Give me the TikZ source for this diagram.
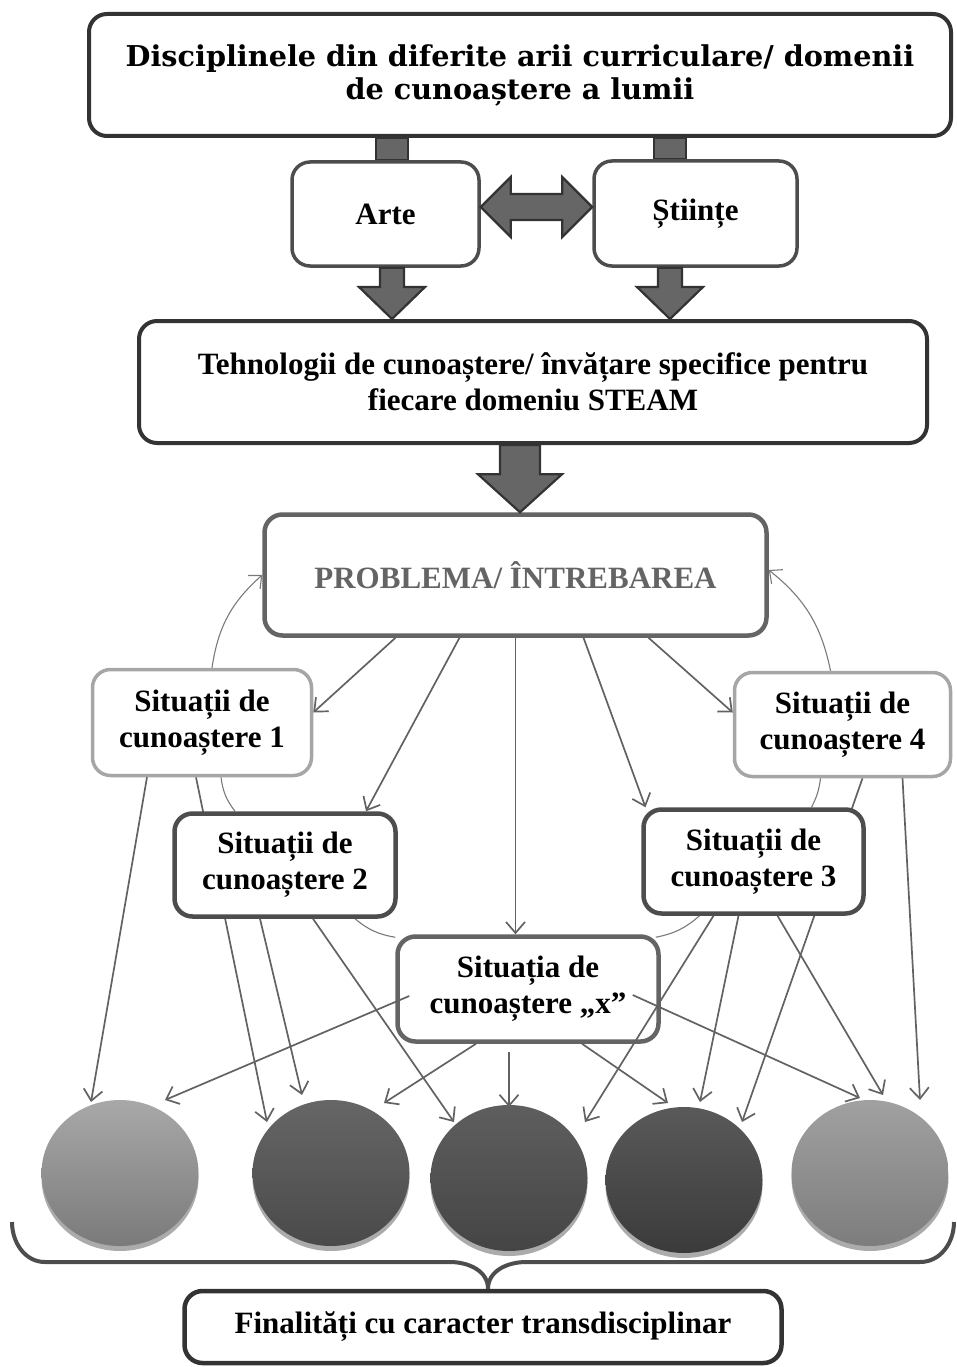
\documentclass[tikz,border=0pt]{standalone}
\usepackage{fontspec}
\setmainfont{Liberation Serif}
\newfontfamily\topfont{DejaVu Serif}
\usetikzlibrary{arrows.meta,calc,shapes.geometric,shadows,backgrounds}

\definecolor{fatgray}{HTML}{666666}
\definecolor{fatline}{HTML}{333333}
\definecolor{darkline}{HTML}{333333}
\definecolor{midline}{HTML}{4D4D4D}
\definecolor{softline}{HTML}{A6A6A6}
\definecolor{probline}{HTML}{646464}
\definecolor{linegray}{HTML}{626262}
\definecolor{arcgray}{HTML}{7A7A7A}

\tikzset{
  box/.style={draw, fill=white, rounded corners=18pt, align=center, inner sep=0pt,
    font=\bfseries\fontsize{31}{36}\selectfont},
  fat/.style={fill=fatgray, draw=fatline, line width=2.2pt, line join=miter},
  arr/.style={draw=linegray, line width=1.7pt, -{Straight Barb[length=11pt,width=19pt]}},
  arcline/.style={draw=arcgray, line width=1.1pt},
  circ/.style={ellipse, inner sep=0pt, minimum width=157pt, minimum height=146pt,
    drop shadow={shadow xshift=0pt, shadow yshift=-5pt, fill=black!33, opacity=1}},
}

% fat arrow pointing down: from, to, half shaft, half head, head length
\newcommand{\fatdown}[5]{%
  \draw[fat] let \p1=(#1), \p2=(#2) in
    (\x1-#3,\y1) -- (\x1+#3,\y1) -- (\x1+#3,\y2+#5) -- (\x1+#4,\y2+#5)
    -- (\x1,\y2) -- (\x1-#4,\y2+#5) -- (\x1-#3,\y2+#5) -- cycle;}
% fat arrow with two heads, left to right
\newcommand{\fatboth}[2]{%
  \draw[fat] let \p1=(#1), \p2=(#2) in
    (\x1,\y1) -- (\x1+30pt,\y1+30pt) -- (\x1+30pt,\y1+13pt) -- (\x2-30pt,\y1+13pt)
    -- (\x2-30pt,\y1+30pt) -- (\x2,\y1) -- (\x2-30pt,\y1-30pt) -- (\x2-30pt,\y1-13pt)
    -- (\x1+30pt,\y1-13pt) -- (\x1+30pt,\y1-30pt) -- cycle;}
% fat bar between two boxes
\newcommand{\fatbar}[2]{%
  \draw[fat] let \p1=(#1), \p2=(#2) in (\x1-16pt,\y1) rectangle (\x1+16pt,\y2);}

\pgfdeclarelayer{background}
\pgfsetlayers{background,main}

\begin{document}
\begin{tikzpicture}[x=1pt,y=-1pt]
\useasboundingbox (0,0) rectangle (956,1367);

% boxes
\node[box, draw=darkline, line width=4pt, minimum width=862pt, minimum height=122pt,
  font=\topfont\bfseries\fontsize{28.7}{33}\selectfont] (top) at (520,75)
  {Disciplinele din diferite arii curriculare/ domenii\\de cunoaștere a lumii};
\node[box, draw=midline, line width=3.5pt, minimum width=187pt, minimum height=104pt] (arte) at (385.5,214) {Arte};
\node[box, draw=midline, line width=3.5pt, minimum width=203pt, minimum height=105pt] (stiinte) at (695.5,213.5) {Științe};
\node[box, draw=darkline, line width=4pt, minimum width=788pt, minimum height=122pt] (tehn) at (533,382)
  {Tehnologii de cunoaștere/ învățare specifice pentru\\fiecare domeniu STEAM};
\node[box, draw=probline, line width=4.5pt, minimum width=502pt, minimum height=121pt,
  text=probline] (prob) at (515.5,575) {PROBLEMA/ ÎNTREBAREA};
\node[box, draw=softline, line width=3.5pt, minimum width=219pt, minimum height=106pt] (s1) at (202,722.5)
  {Situații de\\cunoaștere 1};
\node[box, draw=softline, line width=3.5pt, minimum width=216pt, minimum height=104pt] (s4) at (842.5,724.5)
  {Situații de\\cunoaștere 4};
\node[box, draw=midline, line width=4.5pt, minimum width=221pt, minimum height=103pt] (s2) at (285,865)
  {Situații de\\cunoaștere 2};
\node[box, draw=midline, line width=4.5pt, minimum width=220pt, minimum height=104pt] (s3) at (753.5,861.5)
  {Situații de\\cunoaștere 3};
\node[box, draw=probline, line width=4.5pt, minimum width=261pt, minimum height=105pt] (sx) at (528,989)
  {Situația de\\cunoaștere „x”};

% outcomes
\node[circ, top color=black!34, bottom color=black!52] (c1) at (120,1173) {};
\node[circ, top color=black!60, bottom color=black!71] (c2) at (331,1173) {};
\node[circ, top color=black!63, bottom color=black!73] (c3) at (509,1178) {};
\node[circ, top color=black!65, bottom color=black!77] (c4) at (684,1180) {};
\node[circ, top color=black!37, bottom color=black!51] (c5) at (870,1173) {};

\node[box, draw=darkline, line width=4.5pt, minimum width=597pt, minimum height=72pt] (fin) at (483,1327)
  {Finalități cu caracter transdisciplinar};

% fat connectors
\begin{pgfonlayer}{background}
\fatbar{[xshift=-128pt]top.south}{arte.north}
\fatbar{[xshift=150pt]top.south}{stiinte.north}
\end{pgfonlayer}
\fatboth{[yshift=7pt]arte.east}{[yshift=7pt]stiinte.west}
\fatdown{[xshift=6.5pt]arte.south}{tehn.north}{12pt}{33pt}{32pt}
\fatdown{[xshift=-25.5pt]stiinte.south}{tehn.north}{12pt}{33pt}{32pt}
\fatdown{[xshift=-13pt]tehn.south}{prob.north}{20pt}{42pt}{38pt}

% cycle
\begin{pgfonlayer}{background}
\draw[arcline, -{Straight Barb[length=10pt,width=18pt]}] ([xshift=10pt]s1.north) to[bend left=20] (prob.west);
\draw[arcline, -{Straight Barb[length=10pt,width=18pt]}] ([xshift=-12pt]s4.north) to[bend right=20] ([yshift=5pt]prob.east);
\draw[arcline] ([xshift=19pt]s1.south) to[bend right=15] ([xshift=-50pt]s2.north);
\draw[arcline] ([xshift=70pt]s2.south) to[bend right=15] ([yshift=-3pt]sx.north west);
\draw[arcline] ([xshift=-5pt,yshift=-3pt]sx.north east) to[bend right=15] ([xshift=-54pt]s3.south);
\draw[arcline] ([xshift=58pt]s3.north) to[bend right=10] ([xshift=-22pt]s4.south);
\draw[arr] ([xshift=-6pt]s1.south) -- ([xshift=-64pt,yshift=51pt]c2.center);
\draw[arr] ([xshift=20pt]s4.south) -- ([xshift=58pt,yshift=58pt]c4.center);
\end{pgfonlayer}

% problem to situations
\draw[arr] ([xshift=-120pt]prob.south) -- ([yshift=10pt]s1.east);
\draw[arr] ([xshift=-56pt]prob.south) -- ([xshift=81pt]s2.north);
\draw[arr] (prob.south) -- (prob.south |- sx.north);
\draw[arr] ([xshift=68pt]prob.south) -- ([xshift=-108pt]s3.north);
\draw[arr] ([xshift=133pt]prob.south) -- ([yshift=12pt]s4.west);

% situations to outcomes
\draw[arr] ([xshift=-55pt]s1.south) -- ([xshift=-29pt,yshift=71pt]c1.center);
\draw[arr] ([xshift=-25pt]s2.south) -- ([xshift=-29pt,yshift=78pt]c2.center);
\draw[arr] ([xshift=28pt]s2.south) -- ([xshift=-55pt,yshift=56pt]c3.center);
\draw[arr] ([xshift=14pt,yshift=-7pt]sx.west) -- ([xshift=45pt,yshift=73pt]c1.center);
\draw[arr] ([xshift=-52pt]sx.south) -- ([xshift=53pt,yshift=70pt]c2.center);
\draw[arr, shorten <=8pt] (c3.center |- sx.south) -- ([yshift=71pt]c3.center);
\draw[arr] ([xshift=54pt]sx.south) -- ([xshift=-16pt,yshift=77pt]c4.center);
\draw[arr] ([xshift=-28pt,yshift=-6pt]sx.east) -- ([xshift=-10pt,yshift=75pt]c5.center);
\draw[arr] ([xshift=-40pt]s3.south) -- ([xshift=76pt,yshift=56pt]c3.center);
\draw[arr] ([xshift=-15pt]s3.south) -- ([xshift=16pt,yshift=78pt]c4.center);
\draw[arr] ([xshift=24pt]s3.south) -- ([xshift=13pt,yshift=78pt]c5.center);
\draw[arr] ([xshift=60pt]s4.south) -- ([xshift=50pt,yshift=73pt]c5.center);

% brace
\draw[midline, line width=4pt] (12,1222) to[out=-90,in=180] (45,1262) -- (450,1262)
  to[out=0,in=90] ([xshift=5pt]fin.north);
\draw[midline, line width=4pt] ([xshift=5pt]fin.north) to[out=90,in=180] (526,1262) -- (920,1262)
  to[out=0,in=-90] (954,1222);
\end{tikzpicture}
\end{document}
